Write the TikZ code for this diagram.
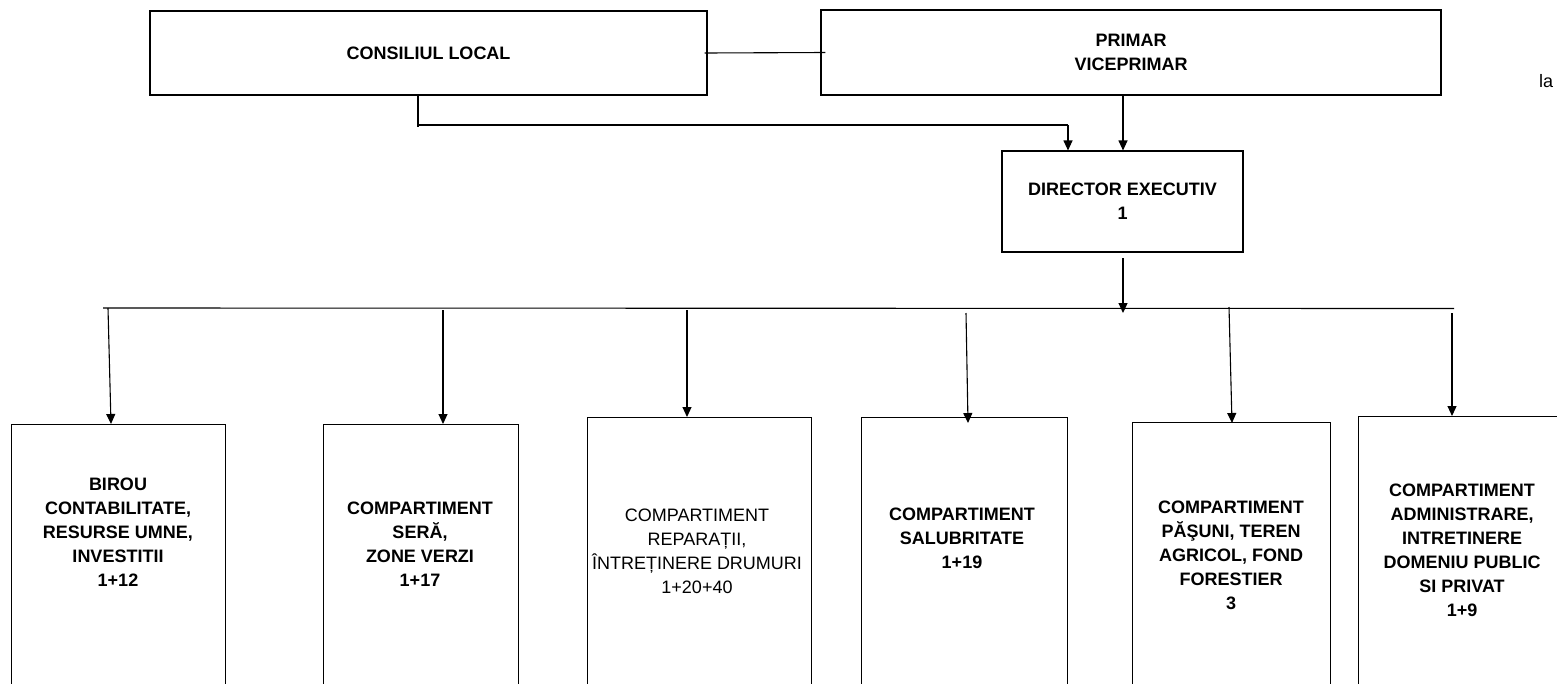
\documentclass[tikz,border=0pt]{standalone}
\usepackage{fontspec}
\setmainfont{Liberation Sans}
\usetikzlibrary{arrows.meta}
\begin{document}
\begin{tikzpicture}[x=1pt,y=-1pt,
  box/.style={draw, line width=1.1pt, rectangle, inner sep=0pt},
  lbl/.style={font=\fontsize{18}{24}\selectfont\bfseries, align=center, inner sep=0pt},
  rlbl/.style={font=\fontsize{18}{24}\selectfont, align=center, inner sep=0pt},
  ln/.style={line width=1.1pt},
  arr/.style={line width=1.1pt, -{Triangle[length=10pt,width=9pt]}}]
\useasboundingbox (0,0) rectangle (1557,683);
\clip (0,0) rectangle (1557,683);

% top level
\node[box, lbl, minimum width=557pt, minimum height=84pt] (cl) at (428.5,53) {CONSILIUL LOCAL};
\node[box, lbl, minimum width=620pt, minimum height=85pt] (pm) at (1131,52.5) {PRIMAR\\VICEPRIMAR};
\node[box, lbl, minimum width=241pt, minimum height=101pt] (dir) at (1122.5,201.5) {DIRECTOR EXECUTIV\\1};
\node[rlbl, anchor=base west] (la) at (1539,87) {la};

% connectors top
\draw[ln] ([xshift=-3pt]cl.east) -- ([xshift=5pt]pm.west);
\coordinate (c1) at (418,95);
\coordinate (c2) at (1068,125);
\draw[ln] (c1) -- (418,127);
\draw[ln] (c1 |- c2) -- (c2);
\draw[arr] (c2) -- (c2 |- dir.north);
\coordinate (pd) at (1123,95);
\draw[arr] (pd) -- (pd |- dir.north);
\coordinate (dd) at (1123,258);
\coordinate (bus1) at (103,308);
\coordinate (bus2) at (1454,308.5);
\draw[arr] (dd) -- (1123,313);
\draw[ln] (bus1) -- (bus2);

% bottom boxes
\node[box, minimum width=214pt, minimum height=280pt, anchor=north west] (b1) at (11,424) {};
\node[box, minimum width=195pt, minimum height=280pt, anchor=north west] (b2) at (323,424) {};
\node[box, minimum width=224pt, minimum height=280pt, anchor=north west] (b3) at (587,417) {};
\node[box, minimum width=206pt, minimum height=280pt, anchor=north west] (b4) at (861,417) {};
\node[box, minimum width=198pt, minimum height=280pt, anchor=north west] (b5) at (1132,422) {};
\node[box, minimum width=208pt, minimum height=280pt, anchor=north west] (b6) at (1358,416) {};

\node[lbl] (t1) at (118,532.5) {BIROU\\CONTABILITATE,\\RESURSE UMNE,\\INVESTITII\\1+12};
\node[lbl] (t2) at (420,544.5) {COMPARTIMENT\\SERĂ,\\ZONE VERZI\\1+17};
\node[rlbl] (t3) at (697,551) {COMPARTIMENT\\REPARAȚII,\\ÎNTREȚINERE DRUMURI\\1+20+40};
\node[lbl] (t4) at (962,538) {COMPARTIMENT\\SALUBRITATE\\1+19};
\node[lbl] (t5) at (1231,555) {COMPARTIMENT\\PĂŞUNI, TEREN\\AGRICOL, FOND\\FORESTIER\\3};
\node[lbl] (t6) at (1462,550.5) {COMPARTIMENT\\ADMINISTRARE,\\INTRETINERE\\DOMENIU PUBLIC\\SI PRIVAT\\1+9};

% arrows to bottom boxes
\coordinate (p1) at (108,308);  \coordinate (q1) at (111,424);
\coordinate (p2) at (443,310);  \coordinate (q2) at (443,424);
\coordinate (p3) at (687,310);  \coordinate (q3) at (687,417);
\coordinate (p4) at (966,313);  \coordinate (q4) at (968,423);
\coordinate (p5) at (1229,307); \coordinate (q5) at (1232,423);
\coordinate (p6) at (1452,313); \coordinate (q6) at (1452,416);
\foreach \i in {1,...,6} {\draw[arr] (p\i) -- (q\i);}
\end{tikzpicture}
\end{document}
